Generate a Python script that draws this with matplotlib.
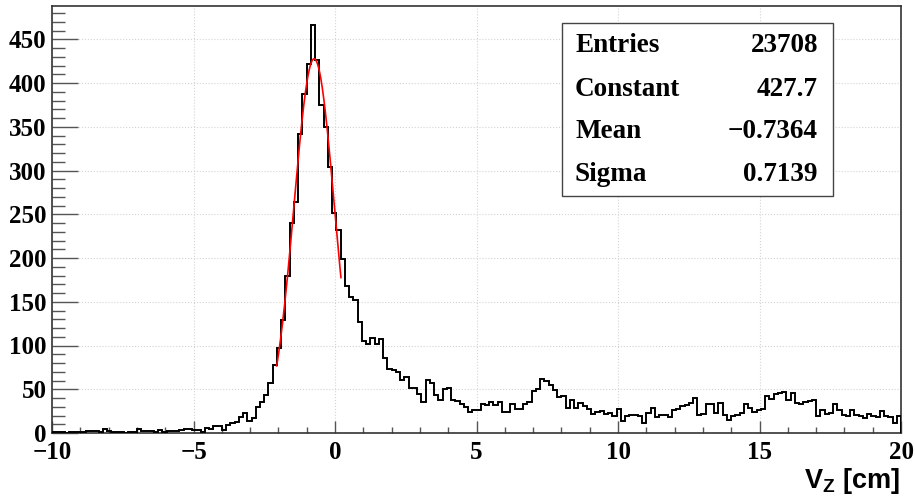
import numpy as np
import matplotlib
matplotlib.use('Agg')
from matplotlib import pyplot as plt
from matplotlib.ticker import MultipleLocator
from matplotlib.patches import Rectangle

# V_Z histogram, 200 bins between -10 and 20 cm
x_min, x_max, n_bins = -10.0, 20.0, 200
counts = [
    1, 1, 1, 0, 1, 1, 1, 1, 2, 2,
    2, 1, 5, 2, 1, 1, 1, 0, 1, 1,
    5, 2, 2, 2, 1, 4, 1, 2, 2, 2,
    4, 5, 5, 3, 3, 1, 6, 5, 8, 8,
    4, 9, 11, 13, 18, 23, 14, 17, 30, 36,
    43, 57, 78, 97, 129, 180, 240, 264, 342, 388,
    422, 466, 426, 375, 350, 304, 251, 232, 199, 168,
    156, 152, 127, 105, 102, 109, 102, 108, 86, 73,
    72, 70, 61, 64, 52, 51, 45, 36, 61, 57,
    43, 38, 50, 51, 38, 37, 33, 30, 24, 26,
    26, 33, 32, 36, 32, 36, 24, 24, 33, 28,
    27, 33, 36, 48, 50, 62, 59, 55, 49, 41,
    42, 29, 38, 29, 34, 31, 27, 22, 24, 25,
    22, 23, 20, 28, 14, 19, 21, 21, 19, 11,
    23, 29, 18, 21, 21, 18, 26, 28, 31, 32,
    34, 40, 21, 22, 33, 33, 23, 34, 21, 15,
    19, 21, 23, 33, 29, 24, 26, 27, 42, 39,
    45, 46, 47, 38, 46, 34, 33, 35, 37, 38,
    19, 26, 22, 23, 33, 26, 21, 19, 26, 21,
    19, 17, 22, 19, 18, 25, 19, 18, 12, 19,
]

# gaussian fit parameters (stats box)
fit_const = 427.7
fit_mean = -0.7364
fit_sigma = 0.7139
fit_lo, fit_hi = -2.06, 0.21

stats_labels = ['Entries', 'Constant', 'Mean', 'Sigma']
stats_values = ['23708', '427.7', '\u22120.7364', '0.7139']

plt.rcParams['mathtext.fontset'] = 'custom'
plt.rcParams['mathtext.rm'] = 'Liberation Sans'
plt.rcParams['mathtext.bf'] = 'Liberation Sans:bold'

W, H = 915, 497
fig = plt.figure(figsize=(W / 100, H / 100), dpi=100)
ax = fig.add_axes([52 / W, 1 - 433 / H, (901 - 52) / W, (433 - 6) / H])

edges = np.linspace(x_min, x_max, n_bins + 1)
ax.stairs(counts, edges, color='black', lw=1.4, zorder=3)

xf = np.linspace(fit_lo, fit_hi, 200)
yf = fit_const * np.exp(-0.5 * ((xf - fit_mean) / fit_sigma) ** 2)
ax.plot(xf, yf, color='red', lw=1.2, zorder=4)

ax.set_xlim(x_min, x_max)
ax.set_ylim(0, 488)

ax.xaxis.set_major_locator(MultipleLocator(5))
ax.xaxis.set_minor_locator(MultipleLocator(1))
ax.yaxis.set_major_locator(MultipleLocator(50))
ax.yaxis.set_minor_locator(MultipleLocator(10))
ax.tick_params(which='both', direction='in', top=False, right=False, color='#555555')
ax.tick_params(axis='x', which='major', length=9, width=1, pad=6)
ax.tick_params(axis='x', which='minor', length=4.5, width=1)
ax.tick_params(axis='y', which='major', length=19, width=1, pad=4)
ax.tick_params(axis='y', which='minor', length=9.5, width=1)
for lab in ax.get_xticklabels() + ax.get_yticklabels():
    lab.set_family('Liberation Serif')
    lab.set_fontweight('bold')
    lab.set_fontsize(18)

ax.grid(True, which='major', color='#d4d4d4', ls=':', lw=0.8, zorder=0)
for sp in ax.spines.values():
    sp.set_color('#333333')
    sp.set_linewidth(1.2)

# stats box
box = Rectangle((562 / W, 1 - 196 / H), (833 - 562) / W, (196 - 23) / H,
                transform=fig.transFigure, facecolor='white', edgecolor='#444444',
                lw=1.0, zorder=5)
fig.patches.append(box)
row_y = [46, 89, 132, 174]
for lab, val, yy in zip(stats_labels, stats_values, row_y):
    fig.text(575 / W, 1 - yy / H, lab, ha='left', va='center', fontsize=19.5,
             family='Liberation Serif', fontweight='bold', zorder=6)
    fig.text(818 / W, 1 - yy / H, val, ha='right', va='center', fontsize=19.5,
             family='Liberation Serif', fontweight='bold', zorder=6)

fig.text(900 / W, 1 - 481 / H, r'V$_{\mathbf{Z}}$ [cm]', ha='right', va='center',
         fontsize=19.5, family='Liberation Sans', fontweight='bold')

fig.savefig('out.png', dpi=100)
